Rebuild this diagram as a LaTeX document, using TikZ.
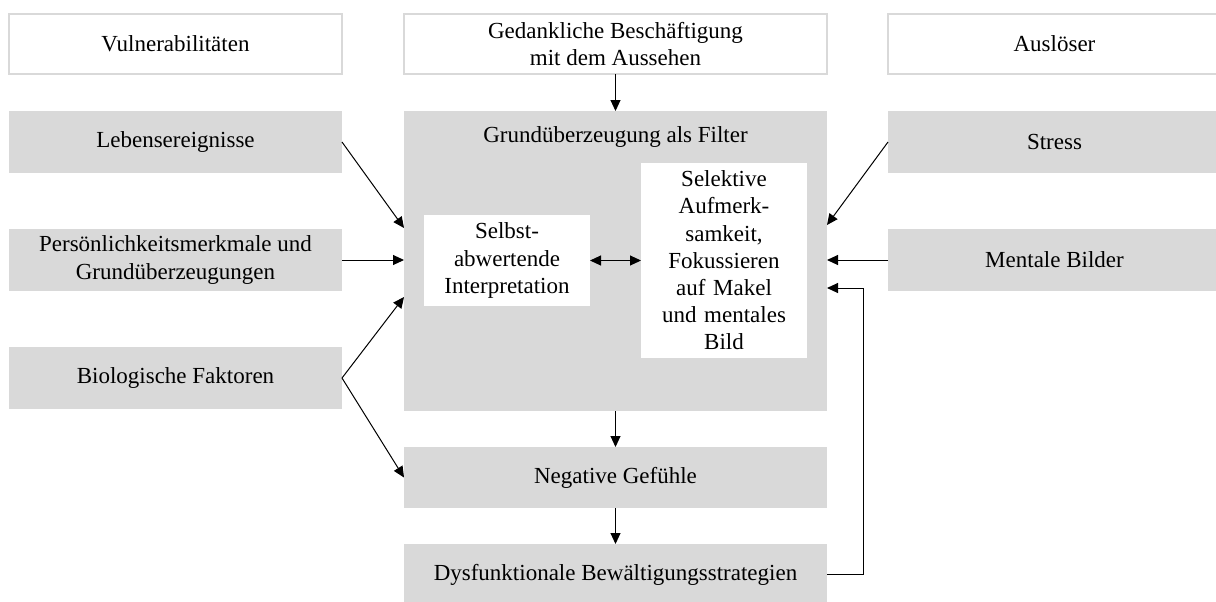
\documentclass[tikz,border=0pt]{standalone}
\usepackage{fontspec}
\setmainfont{Liberation Serif}
\usetikzlibrary{arrows.meta}
\definecolor{boxgray}{RGB}{217,217,217}
\begin{document}
\begin{tikzpicture}[x=0.5pt,y=-0.5pt,
  every node/.style={font=\fontsize{11.5}{13.6}\selectfont, inner sep=0pt, outer sep=0pt, align=center},
  head/.style={draw=boxgray, line width=1pt, fill=white, minimum height=30pt},
  greybox/.style={fill=boxgray, minimum height=31pt},
  innerbox/.style={fill=white, text width=83pt, minimum width=83pt},
  arr/.style={-{Triangle[length=5.5pt,width=5pt]}, line width=0.5pt},
  darr/.style={{Triangle[length=5.5pt,width=5pt]}-{Triangle[length=5.5pt,width=5pt]}, line width=0.5pt},
]
\useasboundingbox (0,0) rectangle (1216,601);

% column headings
\node[head, minimum width=166.5pt] (vul) at (175.5,44) {Vulnerabilitäten};
\node[head, minimum width=211.5pt] (ged) at (615.5,44) {Gedankliche Beschäftigung\\mit dem Aussehen};
\node[head, minimum width=166.5pt] (aus) at (1054.5,44) {Auslöser};

% vulnerabilities
\node[greybox, minimum width=166.5pt] (leb) at (175.5,142) {Lebensereignisse};
\node[greybox, minimum width=166.5pt] (pers) at (175.5,260) {Persönlichkeitsmerkmale und\\Grundüberzeugungen};
\node[greybox, minimum width=166.5pt] (bio) at (175.5,378) {Biologische Faktoren};

% triggers
\node[greybox, minimum width=166.5pt] (stress) at (1054.5,142) {Stress};
\node[greybox, minimum width=166.5pt] (ment) at (1054.5,260) {Mentale Bilder};

% core filter
\node[fill=boxgray, minimum width=211.5pt, minimum height=150pt] (filt) at (615.5,261) {};
\node (filttitle) at (615.5,137) {Grundüberzeugung als Filter};
\node[innerbox, minimum height=45.5pt] (selbst) at (507,260.5) {Selbst-\\abwertende\\Interpretation};
\node[innerbox, minimum height=97.5pt] (selek) at (724,260.5) {Selektive\\Aufmerk-\\samkeit,\\Fokussieren\\auf Makel\\und mentales\\Bild};

% consequences
\node[greybox, minimum width=211.5pt, minimum height=30.5pt] (neg) at (615.5,477.5) {Negative Gefühle};
\node[greybox, minimum width=211.5pt, minimum height=30.5pt] (dys) at (615.5,574.5) {Dysfunktionale Bewältigungsstrategien};

% connectors
\draw[arr] (ged.south) -- (filt.north);
\draw[arr] (filt.south) -- (neg.north);
\draw[arr] (neg.south) -- (dys.north);
\draw[arr] (leb.east) -- ([yshift=16.5pt]filt.west);
\draw[arr] (pers.east) -- (pers.east -| filt.west);
\draw[arr] (bio.east) -- ([yshift=-18pt]filt.west);
\draw[arr] (bio.east) -- (neg.west);
\draw[darr] (selbst.east) -- (selek.west);
\draw[arr] (stress.west) -- ([yshift=18pt]filt.east);
\draw[arr] (ment.west) -- (ment.west -| filt.east);
\draw[arr] (dys.east) -- ++(18pt,0) |- ([yshift=-13.5pt]filt.east);
\end{tikzpicture}
\end{document}
